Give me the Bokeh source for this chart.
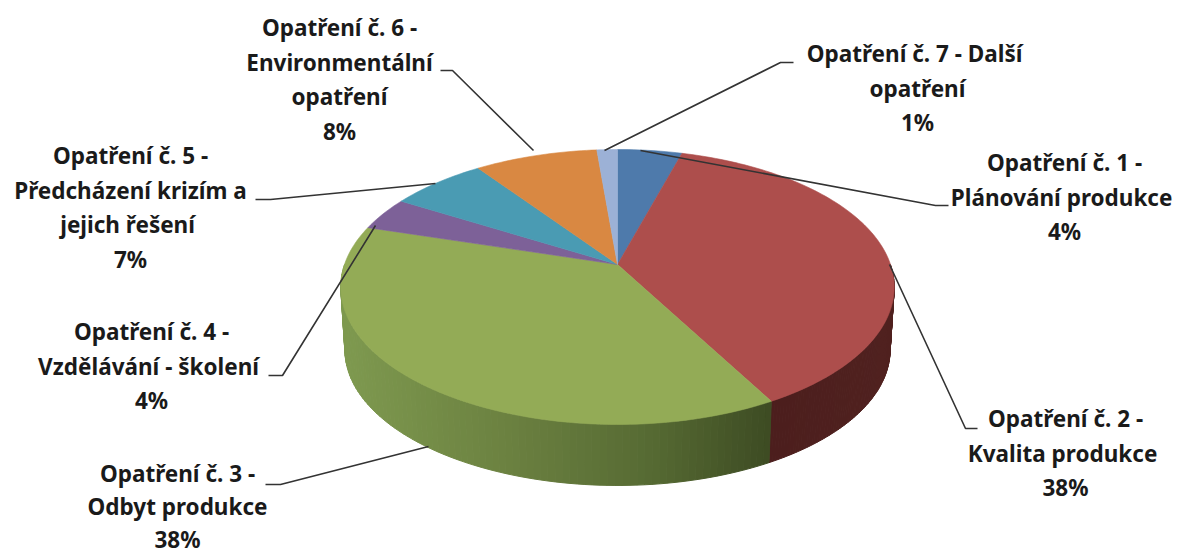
import numpy as np
from bokeh.core.properties import value
from bokeh.embed import file_html
from bokeh.models import Range1d
from bokeh.plotting import figure
from bokeh.resources import INLINE

# Data (clockwise from 12 o'clock)
names = [
    ["Opatření č. 1 -", "Plánování  produkce"],
    ["Opatření č. 2 -", "Kvalita  produkce"],
    ["Opatření č. 3 -", "Odbyt produkce"],
    ["Opatření č. 4 -", "Vzdělávání  - školení"],
    ["Opatření č. 5 -", "Předcházení krizím a", "jejich  řešení"],
    ["Opatření č. 6 -", "Environmentální", "opatření"],
    ["Opatření č. 7 -  Další", "opatření"],
]
shares = [4.4, 37.5, 37.6, 3.9, 6.6, 8.4, 1.4]
top_colors = ["#4e7aab", "#ad4e4c", "#93ab56", "#7d6198", "#4a9bb3", "#d98842", "#9cb1d6"]

# Layout in reference pixels
label_cx = [1064, 1065, 177, 151, 130, 339, 917]
label_y0 = [162, 418, 473, 331, 155, 27, 53]
line_steps = [34.7, 34.7, 33, 34.7, 34.7, 34.7, 34.7]
leaders = [
    ([948, 935, 640], [205, 205, 150]),
    ([977, 965, 889], [428, 428, 264]),
    ([265, 280, 428], [484, 484, 446]),
    ([268, 282, 375], [375, 375, 225]),
    ([255, 270, 435], [199, 199, 183]),
    ([440, 452, 533], [70, 70, 150]),
    ([793, 780, 604], [62, 62, 150]),
]
CX, CY, A, B, K = 617, 264, 273, 133.8, 0.1636
DEPTH_CY, SHRINK = 327.4, 0.985

def project(theta, cy=CY, scale=1.0):
    u, v = np.sin(theta), np.cos(theta)
    w = 1 + K * v
    return CX + scale * A * u / w, cy - scale * B * v / w

p = figure(width=1183, height=554, x_range=Range1d(0, 1183), y_range=Range1d(554, 0),
           output_backend="svg", toolbar_location=None, min_border=0)
p.axis.visible = False
p.grid.visible = False
p.outline_line_color = None

fr = np.array(shares, dtype=float) / sum(shares)
edges = 2 * np.pi * np.concatenate([[0], np.cumsum(fr)])

def lerp_color(x, stops):
    xs = [s[0] for s in stops]
    ch = [np.interp(x, xs, [s[1][i] for s in stops]) for i in range(3)]
    return "#%02x%02x%02x" % tuple(int(round(c)) for c in ch)

green_stops = [(345, (126, 153, 79)), (500, (108, 130, 65)), (650, (86, 106, 51)), (775, (60, 74, 34))]
red_stops = [(775, (76, 30, 29)), (890, (80, 33, 31))]

# Side wall: thin strips following the slices that face the viewer
xs_w, ys_w, cs_w = [], [], []
for i, stops in ((1, red_stops), (2, green_stops)):
    lo, hi = max(edges[i], np.pi / 2), min(edges[i + 1], 1.5 * np.pi)
    t = np.linspace(lo, hi, 90)
    for a, b in zip(t[:-1], t[1:]):
        x1, y1 = project(np.array([a, b]))
        x2, y2 = project(np.array([b, a]), DEPTH_CY, SHRINK)
        xs_w.append(list(x1) + list(x2))
        ys_w.append(list(y1) + list(y2))
        cs_w.append(lerp_color((x1.mean() + x2.mean()) / 2, stops))
p.patches(xs_w, ys_w, fill_color=cs_w, line_color=cs_w, line_width=1)

# Top face
xs_t, ys_t = [], []
for i in range(len(shares)):
    t = np.linspace(edges[i], edges[i + 1], max(8, int(fr[i] * 300)))
    x, y = project(t)
    xs_t.append([CX] + list(x))
    ys_t.append([CY] + list(y))
p.patches(xs_t, ys_t, fill_color=top_colors, line_color=top_colors, line_width=0.6)

# Leader lines
p.multi_line([l[0] for l in leaders], [l[1] for l in leaders], line_color="#333333", line_width=1.6)

# Labels
tx, ty, tt = [], [], []
for name, s, cx, y0, step in zip(names, shares, label_cx, label_y0, line_steps):
    lines = name + [f"{round(s)}%"]
    for j, line in enumerate(lines):
        tx.append(cx)
        ty.append(y0 + j * step)
        tt.append(line)
p.text(tx, ty, text=tt, text_align="center", text_baseline="middle",
       text_font=value("Noto Sans"), text_font_style="bold", text_font_size="22.5px", text_color="#1a1a1a")

open("out.html", "w").write(file_html(p, INLINE))
